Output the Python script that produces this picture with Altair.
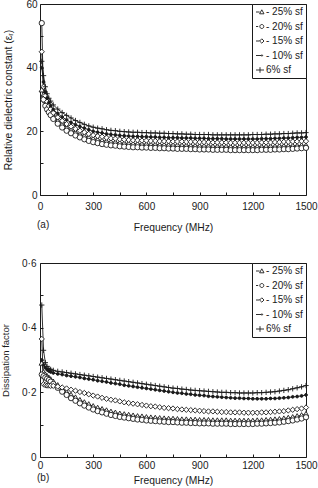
import altair as alt
import pandas as pd

FONT = "Liberation Sans"
INK = "#1a1a1a"

SERIES = ["25% sf", "20% sf", "15% sf", "10% sf", "6% sf"]

FREQ_MHZ = [10, 20, 30, 40, 50, 60, 75, 100, 125, 150, 175, 200, 225, 250, 275, 300,
            325, 350, 375, 400, 425, 450, 475, 500, 525, 550, 575, 600,
            625, 650, 675, 700, 725, 750, 775, 800, 825, 850, 875, 900,
            925, 950, 975, 1000, 1025, 1050, 1075, 1100, 1125, 1150, 1175, 1200,
            1225, 1250, 1275, 1300, 1325, 1350, 1375, 1400, 1425, 1450, 1475, 1500]

# Relative dielectric constant
EPS_25 = [33.0, 31.5, 29.6, 28.1, 27.0, 26.0, 24.8, 23.3, 22.2, 21.2, 20.4, 19.7, 19.1, 18.6, 18.1, 17.7,
          17.4, 17.1, 16.9, 16.7, 16.6, 16.4, 16.3, 16.2, 16.1, 16.1, 16.0, 16.0,
          15.9, 15.9, 15.8, 15.8, 15.7, 15.7, 15.7, 15.6, 15.6, 15.5, 15.5, 15.4,
          15.4, 15.4, 15.3, 15.3, 15.3, 15.3, 15.2, 15.2, 15.2, 15.2, 15.2, 15.2,
          15.2, 15.2, 15.3, 15.3, 15.3, 15.4, 15.4, 15.4, 15.5, 15.5, 15.6, 15.6]
EPS_20 = [54.0, 30.0, 28.0, 26.9, 26.0, 25.1, 23.9, 22.4, 21.2, 20.2, 19.4, 18.7, 18.1, 17.5, 17.0, 16.6,
          16.3, 16.0, 15.8, 15.6, 15.5, 15.3, 15.2, 15.1, 15.0, 15.0, 14.9, 14.9,
          14.8, 14.8, 14.7, 14.7, 14.6, 14.6, 14.5, 14.5, 14.5, 14.4, 14.4, 14.3,
          14.3, 14.3, 14.2, 14.2, 14.2, 14.2, 14.1, 14.1, 14.1, 14.1, 14.1, 14.1,
          14.1, 14.2, 14.2, 14.2, 14.3, 14.3, 14.4, 14.4, 14.5, 14.6, 14.7, 14.8]
EPS_15 = [45.0, 34.0, 31.2, 29.3, 28.0, 27.0, 25.8, 24.4, 23.3, 22.3, 21.5, 20.8, 20.2, 19.7, 19.2, 18.8,
          18.5, 18.3, 18.0, 17.8, 17.7, 17.5, 17.4, 17.3, 17.2, 17.2, 17.1, 17.1,
          17.0, 17.0, 16.9, 16.9, 16.9, 16.8, 16.8, 16.8, 16.7, 16.7, 16.7, 16.6,
          16.6, 16.6, 16.5, 16.5, 16.5, 16.5, 16.4, 16.4, 16.4, 16.4, 16.4, 16.4,
          16.4, 16.5, 16.5, 16.5, 16.6, 16.6, 16.7, 16.7, 16.8, 16.8, 16.9, 16.9]
EPS_10 = [40.0, 35.5, 32.4, 30.4, 29.0, 28.0, 26.9, 25.6, 24.5, 23.6, 22.8, 22.1, 21.5, 21.0, 20.5, 20.0,
          19.7, 19.5, 19.2, 19.0, 18.9, 18.7, 18.6, 18.5, 18.4, 18.4, 18.3, 18.3,
          18.2, 18.2, 18.1, 18.1, 18.0, 18.0, 18.0, 17.9, 17.9, 17.9, 17.8, 17.8,
          17.8, 17.7, 17.7, 17.7, 17.7, 17.6, 17.6, 17.6, 17.6, 17.6, 17.6, 17.6,
          17.6, 17.7, 17.7, 17.7, 17.8, 17.8, 17.9, 17.9, 18.0, 18.1, 18.1, 18.2]
EPS_6 = [42.0, 37.5, 34.0, 31.8, 30.4, 29.5, 28.3, 27.0, 25.9, 25.0, 24.2, 23.4, 22.8, 22.2, 21.7, 21.3,
         21.0, 20.8, 20.5, 20.3, 20.2, 20.0, 19.9, 19.8, 19.7, 19.7, 19.6, 19.6,
         19.5, 19.5, 19.4, 19.4, 19.3, 19.3, 19.2, 19.2, 19.1, 19.1, 19.0, 19.0,
         19.0, 19.0, 18.9, 18.9, 18.9, 18.9, 18.9, 18.9, 18.9, 18.9, 18.9, 19.0,
         19.0, 19.0, 19.1, 19.1, 19.2, 19.2, 19.3, 19.3, 19.4, 19.5, 19.5, 19.6]

# Dissipation factor
DF_25 = [0.290, 0.262, 0.255, 0.250, 0.245, 0.240, 0.233, 0.222, 0.211, 0.201, 0.192, 0.184, 0.176, 0.169, 0.163, 0.157,
         0.152, 0.148, 0.144, 0.140, 0.137, 0.134, 0.132, 0.130, 0.128, 0.126, 0.125, 0.123,
         0.122, 0.121, 0.120, 0.119, 0.118, 0.118, 0.117, 0.116, 0.116, 0.115, 0.115, 0.114,
         0.114, 0.114, 0.113, 0.113, 0.113, 0.113, 0.112, 0.112, 0.112, 0.112, 0.112, 0.112,
         0.113, 0.113, 0.114, 0.115, 0.116, 0.117, 0.119, 0.121, 0.123, 0.126, 0.129, 0.133]
DF_20 = [0.255, 0.250, 0.246, 0.242, 0.238, 0.233, 0.226, 0.214, 0.202, 0.192, 0.182, 0.174, 0.166, 0.159, 0.153, 0.147,
         0.142, 0.138, 0.134, 0.130, 0.127, 0.124, 0.122, 0.120, 0.118, 0.116, 0.115, 0.113,
         0.112, 0.111, 0.110, 0.109, 0.108, 0.108, 0.107, 0.106, 0.106, 0.105, 0.105, 0.104,
         0.104, 0.104, 0.103, 0.103, 0.103, 0.103, 0.102, 0.102, 0.102, 0.102, 0.102, 0.102,
         0.103, 0.103, 0.104, 0.105, 0.106, 0.107, 0.109, 0.111, 0.113, 0.116, 0.119, 0.123]
DF_15 = [0.365, 0.225, 0.222, 0.221, 0.221, 0.220, 0.220, 0.218, 0.215, 0.212, 0.208, 0.205, 0.201, 0.198, 0.194, 0.190,
         0.187, 0.183, 0.180, 0.177, 0.175, 0.172, 0.169, 0.167, 0.165, 0.163, 0.161, 0.159,
         0.157, 0.156, 0.154, 0.152, 0.151, 0.150, 0.148, 0.147, 0.146, 0.145, 0.144, 0.143,
         0.142, 0.141, 0.141, 0.140, 0.139, 0.139, 0.138, 0.138, 0.138, 0.137, 0.137, 0.137,
         0.137, 0.138, 0.138, 0.139, 0.140, 0.141, 0.142, 0.144, 0.146, 0.148, 0.150, 0.153]
DF_10 = [0.300, 0.285, 0.276, 0.270, 0.266, 0.263, 0.260, 0.257, 0.255, 0.252, 0.250, 0.248, 0.246, 0.243, 0.241, 0.239,
         0.236, 0.234, 0.232, 0.229, 0.227, 0.225, 0.222, 0.220, 0.218, 0.216, 0.214, 0.212,
         0.210, 0.208, 0.206, 0.204, 0.202, 0.200, 0.198, 0.197, 0.195, 0.194, 0.192, 0.191,
         0.190, 0.188, 0.187, 0.186, 0.185, 0.184, 0.183, 0.182, 0.182, 0.181, 0.181, 0.180,
         0.180, 0.180, 0.180, 0.181, 0.181, 0.182, 0.183, 0.184, 0.186, 0.187, 0.189, 0.192]
DF_6 = [0.470, 0.330, 0.292, 0.280, 0.274, 0.271, 0.268, 0.265, 0.263, 0.261, 0.259, 0.257, 0.255, 0.253, 0.251, 0.249,
        0.247, 0.245, 0.243, 0.241, 0.239, 0.237, 0.235, 0.233, 0.231, 0.229, 0.227, 0.225,
        0.223, 0.221, 0.219, 0.217, 0.215, 0.213, 0.212, 0.210, 0.209, 0.207, 0.206, 0.205,
        0.204, 0.203, 0.202, 0.201, 0.200, 0.200, 0.199, 0.199, 0.198, 0.198, 0.198, 0.198,
        0.199, 0.199, 0.200, 0.201, 0.202, 0.204, 0.206, 0.208, 0.211, 0.214, 0.217, 0.221]

X_LABELS = [0, 300, 600, 900, 1200, 1500]
X_TICKS = [150, 300, 450, 600, 750, 900, 1050, 1200, 1350]

# plot markers: open triangle, open circle, open diamond, small dot, plus
MARKER_PATHS = [
    "M0,-1L1,0.75L-1,0.75Z",
    "circle",
    "diamond",
    "M-0.55,0A0.55,0.55 0 1,0 0.55,0A0.55,0.55 0 1,0 -0.55,0Z",
    "M-1,0H1M0,-1V1",
]
MARKER_FILL = ["white", "white", "white", INK, "white"]

# key symbols: a short line stroke followed by the marker
KEY_PATHS = [
    "M-1,0H-0.1M0.45,-0.55L1,0.45L-0.1,0.45Z",
    "M-1,0H-0.45M-0.05,0A0.5,0.5 0 1,0 0.95,0A0.5,0.5 0 1,0 -0.05,0Z",
    "M-1,0H-0.1M-0.1,0L0.45,-0.55L1,0L0.45,0.55Z",
    "M-1,0H0.3M0.3,0A0.18,0.18 0 1,0 0.66,0A0.18,0.18 0 1,0 0.3,0Z",
    "M-1,0H1M0,-0.7V0.7",
]

PLOT_W = 266


def long_table(columns):
    rows = []
    for name, values in zip(SERIES, columns):
        for f, v in zip(FREQ_MHZ, values):
            rows.append({"series": name, "freq": f, "value": v})
    return pd.DataFrame(rows)


def panel(data, height, y_domain, y_labels, y_ticks, y_title, y_title_size,
          y_label_pad, y_title_pad, x_label_pad, x_title_pad, tag, tag_dy, y_label_expr=None):
    x_scale = alt.Scale(domain=[0, 1500], nice=False, zero=False)
    y_scale = alt.Scale(domain=y_domain, nice=False, zero=False)
    base = alt.Chart(data)

    y_axis_kw = dict(orient="left", values=y_labels, ticks=False, tickSize=0, grid=False,
                     labelPadding=y_label_pad, labelFlush=False, title=y_title,
                     titlePadding=y_title_pad, titleFontSize=y_title_size,
                     domainColor=INK, domainWidth=1)
    if y_label_expr:
        y_axis_kw["labelExpr"] = y_label_expr

    lines = base.mark_line(color=INK, strokeWidth=0.9).encode(
        x=alt.X("freq:Q", scale=x_scale,
                axis=alt.Axis(orient="bottom", values=X_LABELS, format="d", ticks=False,
                              tickSize=0, grid=False, labelPadding=x_label_pad,
                              labelFlush=False, labelOverlap=False, title="Frequency (MHz)",
                              titlePadding=x_title_pad, domainColor=INK, domainWidth=1)),
        y=alt.Y("value:Q", scale=y_scale, axis=alt.Axis(**y_axis_kw)),
        detail="series:N",
    )

    # markers; their axes only draw the inward tick marks along the frame
    markers = base.mark_point(filled=True, stroke=INK, strokeWidth=0.9, size=28, opacity=1).encode(
        x=alt.X("freq:Q", scale=x_scale,
                axis=alt.Axis(orient="top", offset=-height, values=X_TICKS, labels=False,
                              domain=False, grid=False, tickSize=3, tickColor=INK,
                              tickWidth=1, title=None)),
        y=alt.Y("value:Q", scale=y_scale,
                axis=alt.Axis(orient="right", offset=-PLOT_W, values=y_ticks, labels=False,
                              domain=False, grid=False, tickSize=3, tickColor=INK,
                              tickWidth=1, title=None)),
        shape=alt.Shape("series:N", sort=SERIES,
                        scale=alt.Scale(domain=SERIES, range=MARKER_PATHS), legend=None),
        fill=alt.Fill("series:N", sort=SERIES,
                      scale=alt.Scale(domain=SERIES, range=MARKER_FILL), legend=None),
    )

    key = base.transform_filter("false").mark_point(
        filled=False, stroke=INK, strokeWidth=0.9, size=64, opacity=1
    ).encode(
        x=alt.X("freq:Q", scale=x_scale, axis=None),
        y=alt.Y("value:Q", scale=y_scale, axis=None),
        shape=alt.Shape(
            "series:N", sort=SERIES,
            scale=alt.Scale(domain=SERIES, range=KEY_PATHS),
            legend=alt.Legend(
                title=None, orient="top-right", offset=0, padding=3,
                strokeColor=INK, fillColor="white", symbolSize=64,
                symbolStrokeWidth=0.9, symbolStrokeColor=INK, symbolFillColor="white",
                labelFont=FONT, labelFontSize=10, labelColor=INK, labelOffset=1,
                rowPadding=4.5,
                labelExpr="datum.label == '6% sf' ? datum.label : '- ' + datum.label",
            ),
        ),
    )

    return alt.layer(lines, markers, key).resolve_scale(
        shape="independent", fill="independent"
    ).resolve_axis(x="independent", y="independent").properties(
        width=PLOT_W, height=height,
        title=alt.TitleParams(text=tag, orient="bottom", anchor="start", frame="group",
                              dx=-3, dy=tag_dy, fontSize=10, fontWeight="normal",
                              font=FONT, color=INK),
    )


eps_data = long_table([EPS_25, EPS_20, EPS_15, EPS_10, EPS_6])
df_data = long_table([DF_25, DF_20, DF_15, DF_10, DF_6])

top = panel(eps_data, 191, [0, 60], [0, 20, 40, 60], [10, 20, 30, 40, 50],
            "Relative dielectric constant (εᵣ)", 10.4, 3, 12, 6, 11, "(a)", -16)
bottom = panel(df_data, 194, [0, 0.6], [0, 0.2, 0.4, 0.6], [0.1, 0.2, 0.3, 0.4, 0.5],
               "Dissipation factor", 9.5, 4, 11, 3, 5, "(b)", -16,
               y_label_expr="datum.value == 0 ? '0' : replace(format(datum.value, '.1f'), '.', '·')")

chart = alt.vconcat(top, bottom, spacing=68, bounds="flush").resolve_scale(
    shape="independent", fill="independent"
).properties(
    padding={"left": 0, "top": -2, "right": 0, "bottom": 0},
    background="white",
).configure_view(
    stroke=INK, strokeWidth=1
).configure_axis(
    labelFont=FONT, labelFontSize=10, labelColor=INK,
    titleFont=FONT, titleFontSize=10.3, titleFontWeight="normal", titleColor=INK,
)

chart.save("out.html", embed_options={"renderer": "svg", "actions": False})
